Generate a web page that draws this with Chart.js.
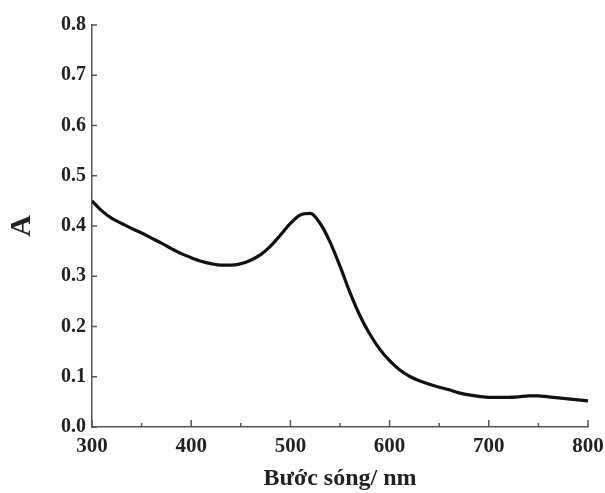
<!DOCTYPE html>
<html>
<head>
<meta charset="utf-8">
<script src="https://cdn.jsdelivr.net/npm/chart.js@4/dist/chart.umd.min.js"></script>
<style>
  html, body { margin: 0; padding: 0; background: #fff; }
  canvas { display: block; }
</style>
</head>
<body>
<canvas id="uv-chart" width="605" height="493"></canvas>
<script>
// buoc song (nm) va do hap thu A
var wavelengths = [300, 310, 320, 330, 340, 350, 360, 370, 380, 390, 400, 410, 420, 430, 440, 450, 460, 470, 480, 490,
    500, 510, 520, 530, 540, 550, 560, 570, 580, 590, 600, 610, 620, 630, 640, 650, 660, 670, 680, 690,
    700, 710, 720, 730, 740, 750, 760, 770, 780, 790, 800];
var absorbance = [0.450, 0.430, 0.415, 0.405, 0.395, 0.386, 0.376, 0.366, 0.355, 0.345, 0.337, 0.330, 0.325, 0.322, 0.322, 0.325, 0.332, 0.343, 0.360, 0.382,
    0.405, 0.422, 0.425, 0.405, 0.368, 0.320, 0.268, 0.222, 0.185, 0.155, 0.132, 0.114, 0.101, 0.092, 0.085, 0.079, 0.074, 0.068, 0.064, 0.061,
    0.059, 0.059, 0.059, 0.060, 0.062, 0.062, 0.060, 0.058, 0.056, 0.054, 0.052];
var xMajorTicks = [300, 400, 500, 600, 700, 800];
var xMinorTicks = [350, 450, 550, 650, 750];
var yTicks = [0.0, 0.1, 0.2, 0.3, 0.4, 0.5, 0.6, 0.7, 0.8];

var points = wavelengths.map(function (w, i) { return { x: w, y: absorbance[i] }; });

var axisColor = '#555';
var serif = "'Liberation Serif', 'Times New Roman', serif";

// vach chia huong vao trong
var innerTicks = {
    id: 'innerTicks',
    afterDraw: function (chart) {
        var ctx = chart.ctx;
        var xs = chart.scales.x, ys = chart.scales.y;
        var bottom = chart.chartArea.bottom, left = chart.chartArea.left;
        ctx.save();
        ctx.strokeStyle = axisColor;
        ctx.lineWidth = 1.5;
        ctx.beginPath();
        xMajorTicks.forEach(function (v) {
            var px = xs.getPixelForValue(v);
            ctx.moveTo(px, bottom);
            ctx.lineTo(px, bottom - 7);
        });
        xMinorTicks.forEach(function (v) {
            var px = xs.getPixelForValue(v);
            ctx.moveTo(px, bottom);
            ctx.lineTo(px, bottom - 4);
        });
        yTicks.forEach(function (v) {
            var py = ys.getPixelForValue(v);
            ctx.moveTo(left, py);
            ctx.lineTo(left + 5, py);
        });
        ctx.stroke();
        ctx.restore();
    }
};

new Chart(document.getElementById('uv-chart'), {
    type: 'line',
    data: {
        datasets: [{
            data: points,
            borderColor: '#111',
            borderWidth: 3.2,
            pointRadius: 0,
            cubicInterpolationMode: 'monotone',
            fill: false
        }]
    },
    options: {
        responsive: false,
        animation: false,
        layout: { padding: { top: 25, right: 17, left: 0, bottom: 0 } },
        plugins: { legend: { display: false }, tooltip: { enabled: false } },
        scales: {
            x: {
                type: 'linear',
                min: 300,
                max: 800,
                afterFit: function (scale) {
                    scale.height = 66;
                    scale.paddingLeft = 0;
                    scale.paddingRight = 0;
                },
                grid: { display: false, drawTicks: false },
                border: { display: true, color: axisColor, width: 1.5 },
                ticks: {
                    stepSize: 100,
                    padding: 7,
                    color: '#222',
                    font: { family: serif, size: 21, weight: 'bold' }
                },
                title: {
                    display: true,
                    text: 'Bước sóng/ nm',
                    color: '#222',
                    padding: { top: 0, bottom: 0 },
                    font: { family: serif, size: 24, weight: 'bold' }
                }
            },
            y: {
                min: 0,
                max: 0.8,
                afterFit: function (scale) {
                    scale.width = 92;
                    scale.paddingTop = 0;
                    scale.paddingBottom = 0;
                },
                grid: { display: false, drawTicks: false },
                border: { display: true, color: axisColor, width: 1.5 },
                ticks: {
                    stepSize: 0.1,
                    padding: 6,
                    color: '#222',
                    font: { family: serif, size: 20, weight: 'bold' },
                    callback: function (v) { return v.toFixed(1); }
                },
                title: {
                    display: true,
                    text: 'A',
                    color: '#222',
                    padding: { top: 4, bottom: 0 },
                    font: { family: serif, size: 30, weight: 'bold' }
                }
            }
        }
    },
    plugins: [innerTicks]
});
</script>
</body>
</html>
